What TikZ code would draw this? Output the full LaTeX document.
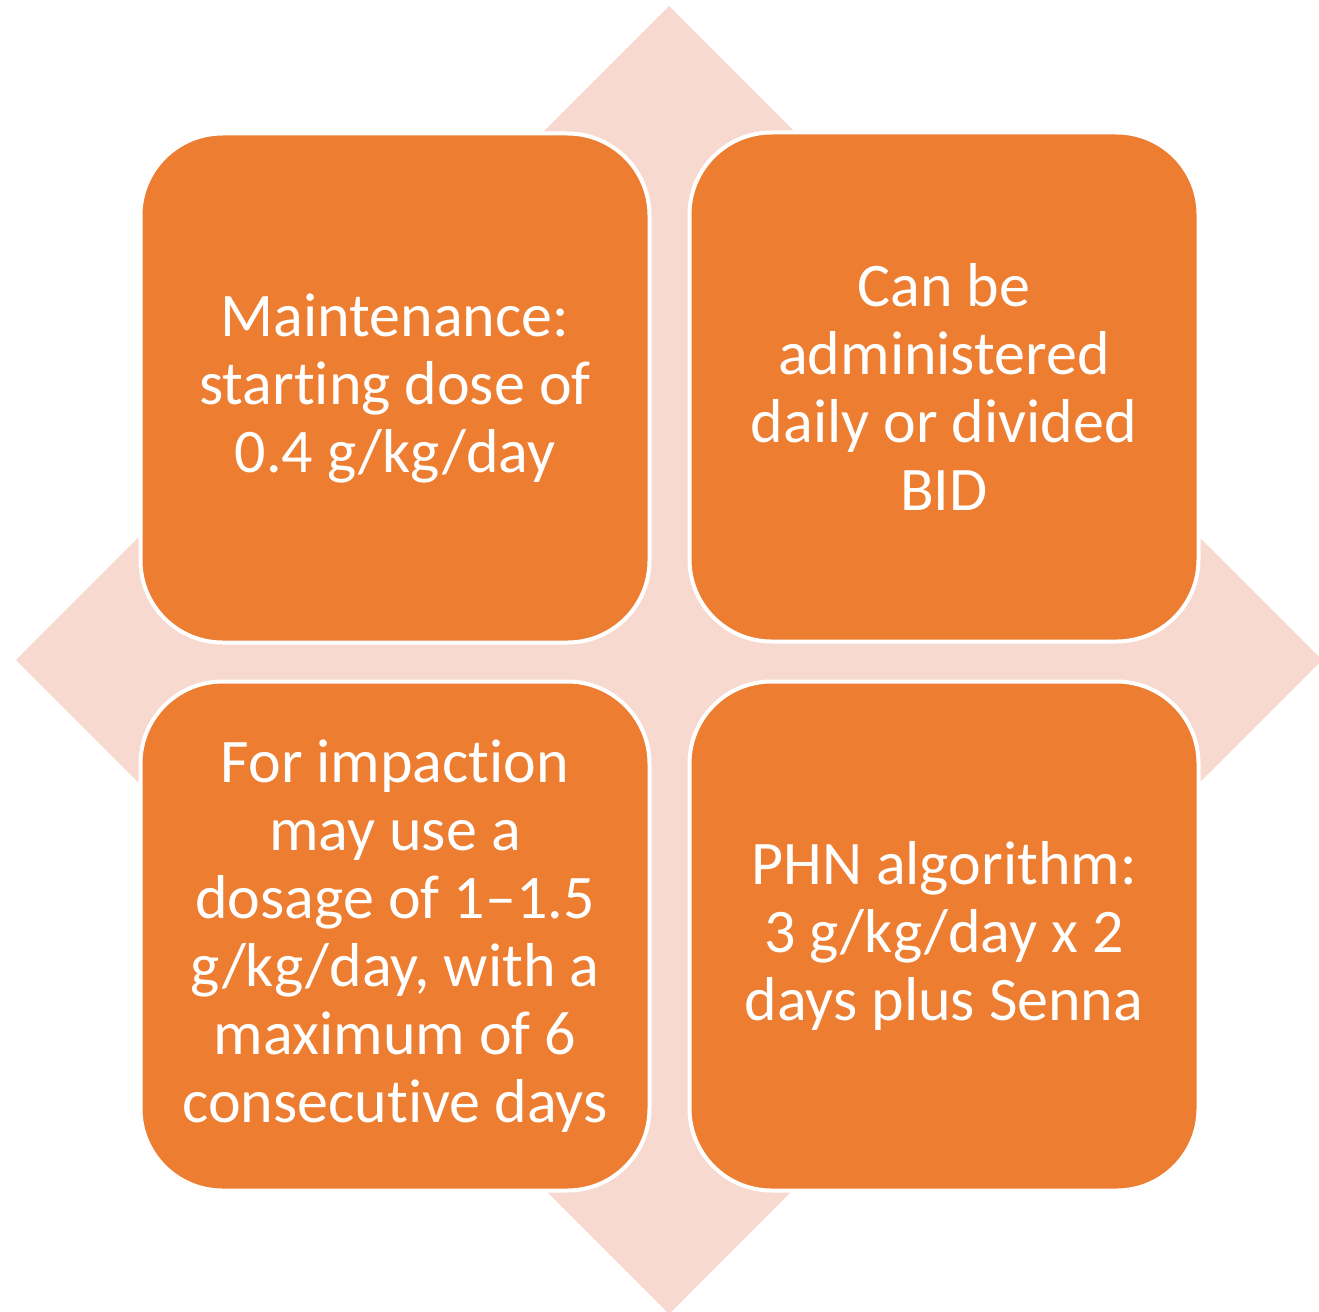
\documentclass[tikz,border=0pt]{standalone}
\usepackage{fontspec}
\setmainfont{Carlito}[RawFeature={-liga}]
\usetikzlibrary{positioning}
\definecolor{boxorange}{RGB}{237,125,49}
\definecolor{petal}{RGB}{248,217,207}
\tikzset{
    tile/.style={
    rectangle,rounded corners=82pt,draw=white,line width=4pt,fill=boxorange,
    minimum width=509pt,minimum height=509pt,inner sep=0pt,
    text=white,align=center,font=\fontsize{62}{68}\selectfont
    },
}

\begin{document}
\begin{tikzpicture}[x=1pt,y=-1pt]
   \useasboundingbox (0,0) rectangle (1319,1311);
   % background diamond
   \fill[petal] (669,6) -- (1322,660) -- (669,1314) -- (16,660) -- cycle;

   \node[tile] (TL) at (395,388) {Maintenance:\\starting dose of\\0.4 g/kg/day};
   \node[tile] (TR) at (944,387) {Can be\\administered\\daily or divided\\BID};
   \node[tile] (BL) at (395,936) {For impaction\\may use a\\dosage of 1–1.5\\g/kg/day, with a\\maximum of 6\\consecutive days};
   \node[tile] (BR) at (944,936) {PHN algorithm:\\3 g/kg/day x 2\\days plus Senna};
\end{tikzpicture}
\end{document}
